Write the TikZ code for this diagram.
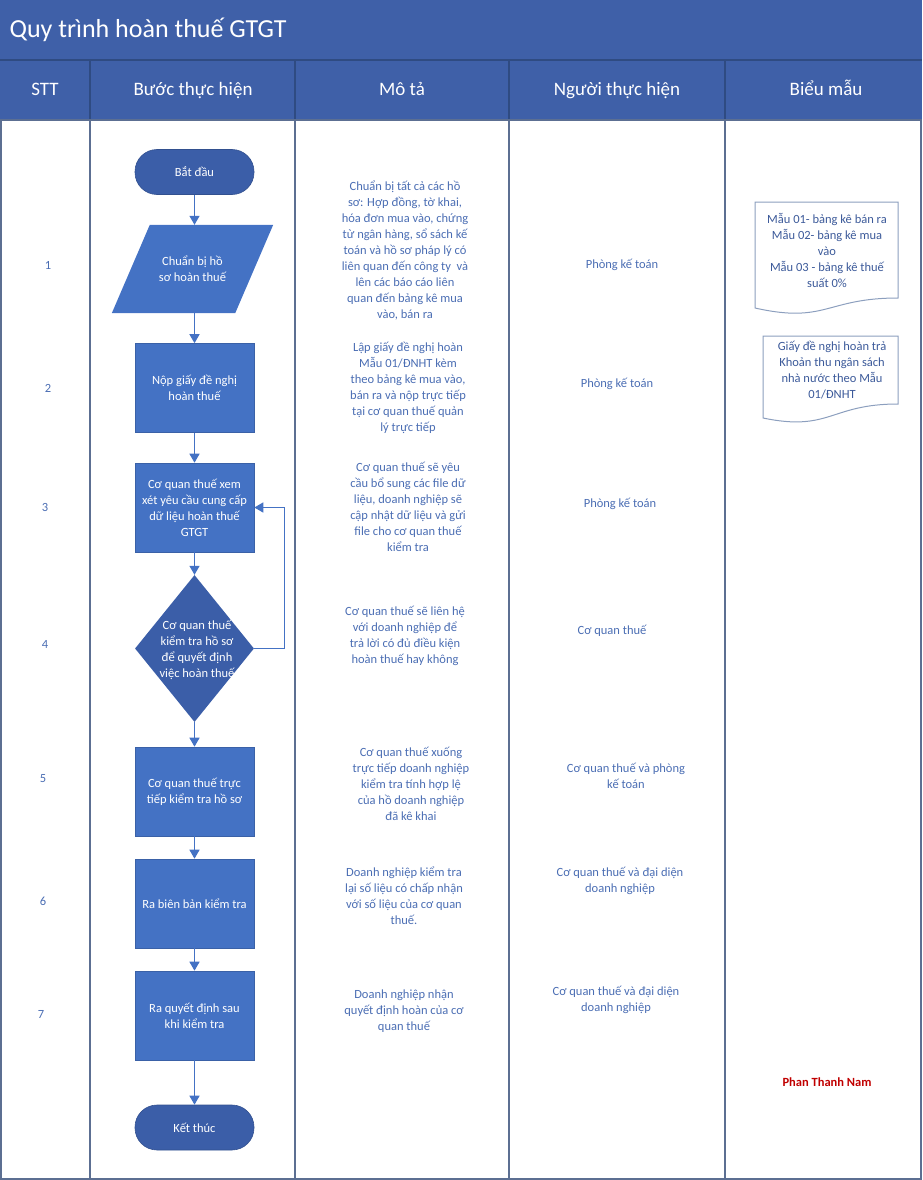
\documentclass[tikz,border=0pt]{standalone}
\usepackage{fontspec}
\setmainfont{Carlito}
\usetikzlibrary{arrows.meta,shapes.geometric}
\definecolor{hdr}{HTML}{3F60A8}
\definecolor{hdrline}{HTML}{2F4B82}
\definecolor{grid}{HTML}{5C6F92}
\definecolor{boxblue}{HTML}{4472C4}
\definecolor{darkblue}{HTML}{3B5EA8}
\definecolor{txtblue}{HTML}{4A6DB3}
\definecolor{formtxt}{HTML}{3C5A9A}
\definecolor{docline}{HTML}{8C9FBE}
\definecolor{sign}{HTML}{C00000}
\tikzset{
  body/.style={font=\fontsize{12.5}{16}\selectfont, align=center},
  desc/.style={body, text=txtblue},
  formtext/.style={body, text=formtxt},
  stt/.style={body, text=txtblue},
  headtext/.style={text=white, font=\fontsize{19}{22}\selectfont, anchor=base},
  procbox/.style={body, rectangle, fill=boxblue, draw=boxblue!85!black, line width=0.6pt, text=white, minimum width=119pt, minimum height=89pt, inner sep=0pt},
  termbox/.style={body, rectangle, rounded corners=22pt, fill=darkblue, draw=darkblue!85!black, line width=0.6pt, text=white, minimum width=119pt, minimum height=45pt},
  flow/.style={draw=boxblue, line width=1.4pt, -{Triangle[width=10pt,length=9pt]}},
}
\begin{document}
\begin{tikzpicture}[x=1pt,y=-1pt]
\useasboundingbox (0,0) rectangle (922,1180);
% header
\fill[hdr] (0,0) rectangle (922,120);
\draw[hdrline, line width=1.2pt] (0,60) -- (922,60);
\foreach \xx in {90,295,509,725} \draw[hdrline, line width=1.2pt] (\xx,60) -- (\xx,120);
\node[anchor=west, text=white, font=\fontsize{26}{30}\selectfont] (title) at (6,30) {Quy trình hoàn thuế GTGT};
\node[headtext] (h1) at (45,96) {STT};
\node[headtext] (h2) at (193,96) {Bước thực hiện};
\node[headtext] (h3) at (402,96) {Mô tả};
\node[headtext] (h4) at (617,96) {Người thực hiện};
\node[headtext] (h5) at (826,96) {Biểu mẫu};
% grid
\draw[grid, line width=1.6pt] (0,120) -- (922,120);
\foreach \xx in {90,295,509,725} \draw[grid, line width=1.8pt] (\xx,120) -- (\xx,1180);
\draw[grid, line width=1.8pt] (0.9,120) -- (0.9,1179.1) -- (921.1,1179.1) -- (921.1,120);
% STT numbers
\node[stt] (n1) at (48,265) {1};
\node[stt] (n2) at (48,388) {2};
\node[stt] (n3) at (45,507) {3};
\node[stt] (n4) at (45,644) {4};
\node[stt] (n5) at (43,779) {5};
\node[stt] (n6) at (43,901) {6};
\node[stt] (n7) at (41,1014) {7};
% flow chart
\node[termbox] (start) at (194.5,172) {Bắt đầu};
\node[body, minimum width=161pt, minimum height=88pt, inner sep=0pt] (p) at (192.5,269) {};
\fill[boxblue] ([xshift=38pt]p.north west) -- (p.north east) -- ([xshift=-38pt]p.south east) -- (p.south west) -- cycle;
\node[body, text=white] (ptext) at (p.center) {Chuẩn bị hồ\\sơ hoàn thuế};
\node[procbox] (r2) at (194.5,388) {Nộp giấy đề nghị\\hoàn thuế};
\node[procbox] (r3) at (194.5,507.5) {Cơ quan thuế xem\\xét yêu cầu cung cấp\\dữ liệu hoàn thuế\\GTGT};
\node[diamond, fill=darkblue, minimum width=119pt, minimum height=147pt, inner sep=0pt, aspect=0.81] (d) at (194.5,648.5) {};
\node[body, text=white] (dtext) at (197,650) {Cơ quan thuế\\kiểm tra hồ sơ\\để quyết định\\việc hoàn thuế};
\node[procbox] (r5) at (194.5,791.5) {Cơ quan thuế trực\\tiếp kiểm tra hồ sơ};
\node[procbox] (r6) at (194.5,903.5) {Ra biên bản kiểm tra};
\node[procbox] (r7) at (194.5,1015.5) {Ra quyết định sau\\khi kiểm tra};
\node[termbox] (end) at (194.5,1127.5) {Kết thúc};
\draw[flow] (start) -- (start |- p.north);
\draw[flow] (r2 |- p.south) -- (r2);
\draw[flow] (r2) -- (r3);
\draw[flow] (r3) -- (d.north);
\draw[flow] (d.south) -- (r5);
\draw[flow] (r5) -- (r6);
\draw[flow] (r6) -- (r7);
\draw[flow] (r7) -- (end);
\draw[flow] (d.east) -- ++(30,0) |- (r3.east);
% descriptions
\node[desc] (m1) at (405,250) {Chuẩn bị tất cả các hồ\\sơ: Hợp đồng, tờ khai,\\hóa đơn mua vào, chứng\\từ ngân hàng, sổ sách kế\\toán và hồ sơ pháp lý có\\liên quan đến công ty\ \ và\\lên các báo cáo liên\\quan đến bảng kê mua\\vào, bán ra};
\node[desc] (m2) at (408,388) {Lập giấy đề nghị hoàn\\Mẫu 01/ĐNHT kèm\\theo bảng kê mua vào,\\bán ra và nộp trực tiếp\\tại cơ quan thuế quản\\lý trực tiếp};
\node[desc] (m3) at (408,507) {Cơ quan thuế sẽ yêu\\cầu bổ sung các file dữ\\liệu, doanh nghiệp sẽ\\cập nhật dữ liệu và gửi\\file cho cơ quan thuế\\kiểm tra};
\node[desc] (m4) at (405,636) {Cơ quan thuế sẽ liên hệ\\với doanh nghiệp để\\trả lời có đủ điều kiện\\hoàn thuế hay không};
\node[desc] (m5) at (411,784) {Cơ quan thuế xuống\\trực tiếp doanh nghiệp\\kiểm tra tính hợp lệ\\của hồ doanh nghiệp\\đã kê khai};
\node[desc] (m6) at (404,896) {Doanh nghiệp kiểm tra\\lại số liệu có chấp nhận\\với số liệu của cơ quan\\thuế.};
\node[desc] (m7) at (404,1011) {Doanh nghiệp nhận\\quyết định hoàn của cơ\\quan thuế};
% persons
\node[desc] (w1) at (622,265) {Phòng kế toán};
\node[desc] (w2) at (617,384) {Phòng kế toán};
\node[desc] (w3) at (620,504) {Phòng kế toán};
\node[desc] (w4) at (612,631) {Cơ quan thuế};
\node[desc] (w5) at (626,776) {Cơ quan thuế và phòng\\kế toán};
\node[desc] (w6) at (620,881) {Cơ quan thuế và đại diện\\doanh nghiệp};
\node[desc] (w7) at (616,1000) {Cơ quan thuế và đại diện\\doanh nghiệp};
% forms
\draw[docline, fill=white, line width=1pt] (755,202) -- (898,202) -- (898,298) .. controls (826,298) and (826,324) .. (755,308) -- cycle;
\node[formtext] (f1) at (827,250) {Mẫu 01- bảng kê bán ra\\Mẫu 02- bảng kê mua\\vào\\Mẫu 03 - bảng kê thuế\\suất 0\%};
\draw[docline, fill=white, line width=1pt] (763,336) -- (898,336) -- (898,404) .. controls (830,404) and (830,432) .. (763,418) -- cycle;
\node[formtext] (f2) at (832,370) {Giấy đề nghị hoàn trả\\Khoản thu ngân sách\\nhà nước theo Mẫu\\01/ĐNHT};
\node[text=sign, font=\bfseries\fontsize{12.5}{15}\selectfont] (sig) at (827,1082) {Phan Thanh Nam};
\end{tikzpicture}
\end{document}
